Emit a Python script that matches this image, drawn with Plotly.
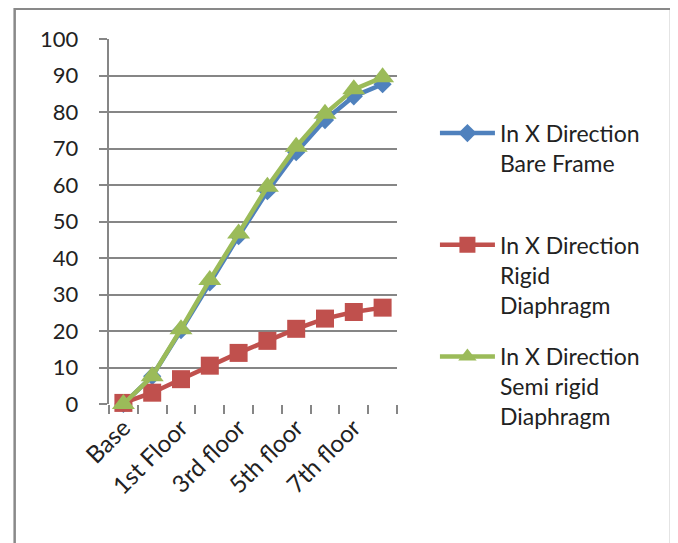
import plotly.graph_objects as go

floors = ["Base", "Plinth", "1st Floor", "2nd floor", "3rd floor", "4th floor",
          "5th floor", "6th floor", "7th floor", "8th floor"]
bare_frame = [0, 7.6, 20.2, 33.3, 46.0, 58.3, 69.0, 77.8, 84.3, 87.6]
rigid = [0.3, 3.1, 6.8, 10.5, 14.0, 17.3, 20.6, 23.4, 25.2, 26.4]
semi_rigid = [0, 7.6, 20.5, 34.0, 46.7, 59.5, 70.5, 79.5, 86.2, 89.5]
names = ["In X Direction<br>Bare Frame<br> ",
         "In X Direction<br>Rigid<br>Diaphragm",
         "In X Direction<br>Semi rigid<br>Diaphragm"]
y_ticks = list(range(0, 101, 10))

xpos = list(range(len(floors)))
label_idx = xpos[::2]
label_text = floors[::2]

fig = go.Figure()
series = [
    (bare_frame, names[0], "#4F81BD", "diamond", 14),
    (rigid, names[1], "#C0504D", "square", 18),
    (semi_rigid, names[2], "#9BBB59", "triangle-up", 20),
]
for i, (vals, nm, col, sym, sz) in enumerate(series):
    fig.add_trace(go.Scatter(
        x=xpos, y=vals, name=nm, mode="lines+markers",
        line=dict(color=col, width=4.5),
        marker=dict(symbol=sym, size=sz, color=col),
        cliponaxis=False, legendgroup=str(i),
    ))

W, H = 678, 543
OFF = 8  # page body offset
# plot area in screen pixels
SX0, SX1, SY0, SY1 = 108.5, 397, 39.3, 404.5
L = SX0 - OFF
T = SY0 - OFF
R = W - (SX1 - OFF)
B = H - (SY1 - OFF)
pw, ph = SX1 - SX0, SY1 - SY0

def px_x(p):
    return (p - SX0) / pw

def px_y(p):
    return (SY1 - p) / ph

fig.update_layout(
    width=W, height=H,
    margin=dict(l=L, r=R, t=T, b=B),
    paper_bgcolor="white", plot_bgcolor="white",
    font=dict(family="Lato", size=20, color="#222222"),
    showlegend=True,
    legend=dict(x=px_x(435), y=px_y(112), xanchor="left", yanchor="top",
                valign="top", itemwidth=55, tracegroupgap=19,
                font=dict(size=23, family="Lato", color="#222222"),
                bgcolor="rgba(0,0,0,0)"),
    xaxis=dict(range=[-0.5, len(floors) - 0.5], tickmode="array",
               tickvals=label_idx, ticktext=label_text, tickangle=-45,
               ticks="", showgrid=False, zeroline=False,
               showline=False, ticklabelstandoff=4,
               tickfont=dict(size=24, family="Lato", color="#222222"),
               minor=dict(tickmode="linear", tick0=-0.5, dtick=1,
                          ticks="outside", ticklen=8.5, tickcolor="#868686",
                          tickwidth=1.5, showgrid=False)),
    yaxis=dict(range=[0, 100], tickmode="array", tickvals=y_ticks,
               ticks="outside", ticklen=8.5, tickcolor="#868686", tickwidth=1.5,
               showgrid=True, gridcolor="#868686", gridwidth=1.5,
               showline=True, linecolor="#868686", linewidth=1.5,
               zeroline=False, ticklabelstandoff=16,
               tickfont=dict(size=22, family="Lato", color="#222222")),
    shapes=[dict(type="rect", xref="paper", yref="paper",
                 x0=px_x(14), x1=px_x(671.5), y0=px_y(560), y1=px_y(9),
                 line=dict(color="#898989", width=2.5), layer="below")],
)

fig.write_html("out.html")
